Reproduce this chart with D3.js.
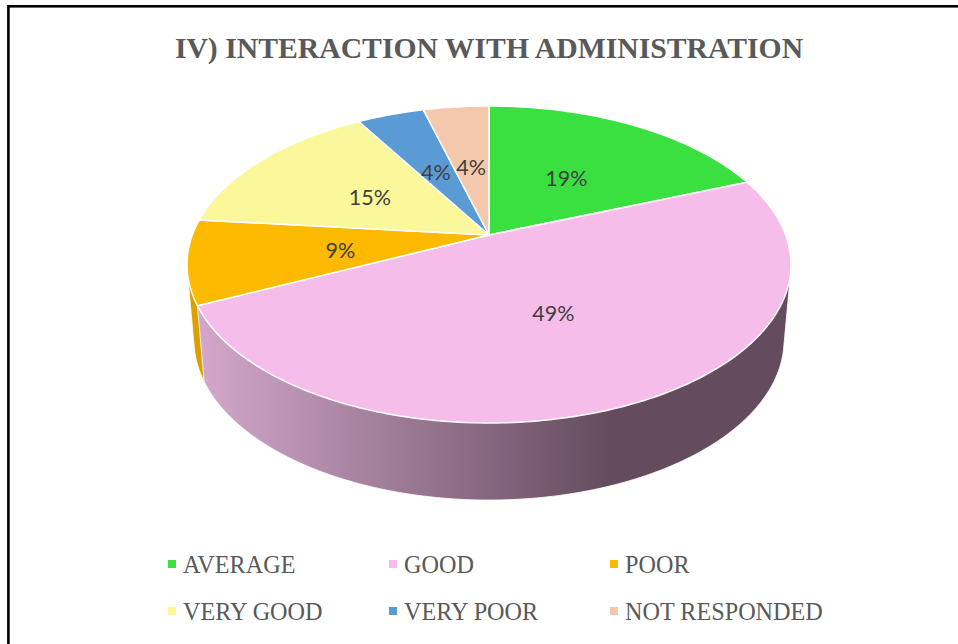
<!DOCTYPE html>
<html>
<head>
<meta charset="utf-8">
<script src="https://cdn.jsdelivr.net/npm/d3@7"></script>
<style>
	html, body { margin: 0; padding: 0; background: #fff; }
	svg { display: block; }
</style>
</head>
<body>
<script>
	const titleText = "IV) INTERACTION WITH ADMINISTRATION";
	const categories = ["AVERAGE", "GOOD", "POOR", "VERY GOOD", "VERY POOR", "NOT RESPONDED"];
	// Shares, the labels show them rounded
	const shares = [19, 49, 8.6, 14.9, 4.3, 4.2];
	const colors = ["#3ae040", "#f6bcea", "#fdba00", "#fbf89c", "#5b9bd5", "#f4c8ad"];

	const width = 958, height = 644;

	const svg = d3.select("body")
		.append("svg")
		.attr("width", width)
		.attr("height", height);

	// Side wall of the pink slice is shaded left to right
	const grad = svg.append("defs")
		.append("linearGradient")
		.attr("id", "goodSide")
		.attr("gradientUnits", "userSpaceOnUse")
		.attr("x1", 200).attr("x2", 610)
		.attr("y1", 0).attr("y2", 0);
	grad.append("stop").attr("offset", 0).attr("stop-color", "#d3a7cb");
	grad.append("stop").attr("offset", 1).attr("stop-color", "#644c5e");

	// Frame, open on the right and at the bottom of the screenshot
	svg.append("rect")
		.attr("x", 8.4).attr("y", 6.3)
		.attr("width", width + 20).attr("height", height + 20)
		.attr("fill", "none")
		.attr("stroke", "#000")
		.attr("stroke-width", 2.6);

	svg.append("text")
		.attr("x", 489).attr("y", 58)
		.attr("text-anchor", "middle")
		.attr("font-family", "'Liberation Serif'")
		.attr("font-weight", "bold")
		.attr("font-size", 29.7)
		.attr("fill", "#595959")
		.text(titleText);

	// Perspective pie: the apex sits above the middle of the ellipse
	const cx = 489, cy = 235, tilt = 0.186, radiusX = 296.7, radiusY = 153;
	// Where a point of the unit disc lands on the top face
	function project(angle, r) {
		const w = 1 + tilt * r * Math.cos(angle);
		return [
			cx + radiusX * r * Math.sin(angle) / w,
			cy - radiusY * r * Math.cos(angle) / w
		];
	}
	// Same point on the bottom face of the disc
	const faceMidY = 264.5, floorMidY = 340, floorX = 0.977, floorY = 1.01;
	function projectFloor(angle) {
		const p = project(angle, 1);
		return [cx + (p[0] - cx) * floorX, floorMidY + (p[1] - faceMidY) * floorY];
	}

	const slices = d3.pie().sort(null).value(function (d) { return d; })(shares);
	const line = d3.line();

	function sampleAngles(d) {
		const n = Math.ceil((d.endAngle - d.startAngle) * 60);
		return d3.range(n + 1).map(function (i) {
			return d.startAngle + (d.endAngle - d.startAngle) * i / n;
		});
	}

	// Side walls, only pink and orange end up visible
	svg.selectAll("path.side")
		.data(slices.slice().reverse())
		.enter()
		.append("path")
		.attr("class", "side")
		.attr("d", function (d) {
			const pts = sampleAngles(d);
			const hull = d3.polygonHull(
				pts.map(function (a) { return project(a, 1); })
					.concat(pts.map(projectFloor))
			);
			return line(hull) + "Z";
		})
		.attr("fill", function (d) {
			return d.index === 1 ? "url(#goodSide)" : d3.color(colors[d.index]).darker(0.4);
		})
		.attr("stroke", "#fff")
		.attr("stroke-width", 0.8);

	// Top face
	svg.selectAll("path.face")
		.data(slices)
		.enter()
		.append("path")
		.attr("class", "face")
		.attr("d", function (d) {
			const rim = sampleAngles(d).map(function (a) { return project(a, 1); });
			return line([[cx, cy]].concat(rim)) + "Z";
		})
		.attr("fill", function (d) { return colors[d.index]; })
		.attr("stroke", "#fff")
		.attr("stroke-width", 1.5)
		.attr("stroke-linejoin", "round");

	// Percent labels
	svg.selectAll("text.pct")
		.data(slices)
		.enter()
		.append("text")
		.attr("class", "pct")
		.attr("transform", function (d) {
			const p = project((d.startAngle + d.endAngle) / 2, 0.5);
			return "translate(" + p[0] + "," + (p[1] + 2) + ")";
		})
		.attr("text-anchor", "middle")
		.attr("dy", "0.35em")
		.attr("font-family", "Lato")
		.attr("font-size", 21.5)
		.attr("fill", "#404040")
		.text(function (d) { return Math.round(d.data) + "%"; });

	// Legend, three columns by two rows
	const legendX = d3.scaleLinear().domain([0, 1]).range([168, 389]);
	const legendY = d3.scaleLinear().domain([0, 1]).range([564, 611]);

	const legend = svg.selectAll("g.legend")
		.data(categories)
		.enter()
		.append("g")
		.attr("class", "legend")
		.attr("transform", function (d, i) {
			return "translate(" + legendX(i % 3) + "," + legendY(Math.floor(i / 3)) + ")";
		});

	legend.append("rect")
		.attr("x", 0).attr("y", -4)
		.attr("width", 8).attr("height", 8)
		.attr("fill", function (d, i) { return colors[i]; });

	legend.append("text")
		.attr("x", 15).attr("y", 9)
		.attr("font-family", "'Liberation Serif'")
		.attr("font-size", 24.2)
		.attr("fill", "#595959")
		.text(function (d) { return d; });
</script>
</body>
</html>
